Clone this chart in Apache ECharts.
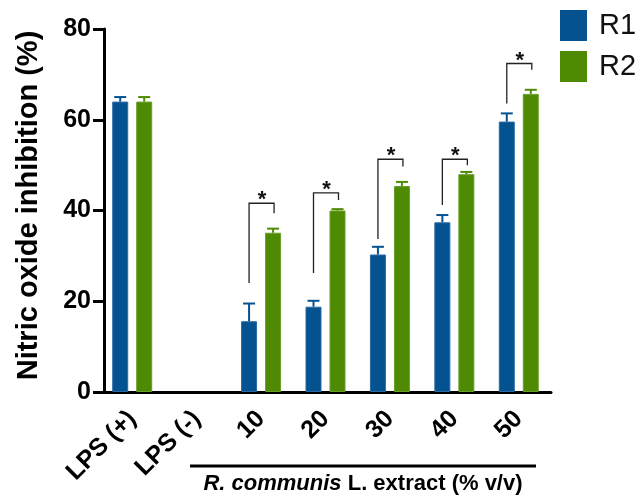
<!DOCTYPE html>
<html>
<head>
<meta charset="utf-8">
<script src="https://cdn.jsdelivr.net/npm/echarts@6/dist/echarts.min.js"></script>
<style>
  html, body { margin: 0; padding: 0; background: #fff; }
  #chart { width: 636px; height: 497px; }
</style>
</head>
<body>
<div id="chart"></div>
<script>
// Treatment groups along the x axis
const categories = ['LPS (+)', 'LPS (-)', '10', '20', '30', '40', '50'];

// Nitric oxide inhibition (%) per replicate, with standard errors
const r1Values = [64.0, 0, 15.6, 18.8, 30.3, 37.4, 59.6];
const r1Errors = [1.0, 0, 3.9, 1.3, 1.7, 1.6, 1.8];
const r2Values = [64.0, 0, 35.1, 40.0, 45.4, 48.0, 65.7];
const r2Errors = [1.0, 0, 0.9, 0.3, 0.9, 0.5, 0.9];

// Significance brackets: group index, bracket height, left leg end, right leg end
const bracketGroups = [2, 3, 4, 5, 6];
const bracketTop = [41.6, 43.9, 51.3, 51.3, 72.4];
const bracketLeftEnd = [24.0, 26.2, 33.7, 41.2, 63.6];
const bracketRightEnd = [39.4, 42.3, 49.7, 50.0, 71.0];

// Y axis ticks
const yTicks = { min: 0, max: 80, interval: 20 };

const FONT = 'Liberation Sans, Arial, Helvetica, sans-serif';
const BLUE = '#055291';
const GREEN = '#4e8b02';
const BAR_W = 16;
const BAR_GAP = 8;
const HALF_STEP = (BAR_W + BAR_GAP) / 2;

const chart = echarts.init(document.getElementById('chart'), null, { renderer: 'canvas' });

// Bars get a faint lighter edge; empty bars get no edge at all
function barData(values, edge) {
  return values.map(v => ({
    value: v,
    itemStyle: { borderColor: edge, borderWidth: v > 0 ? 1 : 0 }
  }));
}

function errorBarSeries(name, values, errors, shift, color) {
  return {
    type: 'custom',
    name: name + ' err',
    silent: true,
    z: 3,
    data: values.map((v, i) => [i, v, v + errors[i], errors[i]]),
    renderItem: function (params, api) {
      if (api.value(3) <= 0) return null;
      const base = api.coord([api.value(0), api.value(1)]);
      const top = api.coord([api.value(0), api.value(2)]);
      const x = base[0] + shift;
      const style = { stroke: color, lineWidth: 2, fill: null };
      return {
        type: 'group',
        children: [
          { type: 'line', shape: { x1: x, y1: base[1], x2: x, y2: top[1] }, style: style },
          { type: 'line', shape: { x1: x - 6, y1: top[1], x2: x + 6, y2: top[1] }, style: style }
        ]
      };
    }
  };
}

const option = {
  animation: false,
  backgroundColor: '#fff',
  textStyle: { fontFamily: FONT },
  grid: { left: 100, right: 85, top: 29, bottom: 105, containLabel: false },
  legend: {
    data: ['R1', 'R2'],
    orient: 'vertical',
    left: 560,
    top: 10,
    padding: 0,
    itemWidth: 27,
    itemHeight: 31,
    itemGap: 10,
    icon: 'rect',
    textStyle: { fontFamily: FONT, fontSize: 29, color: '#111', padding: [0, 0, 0, 7] }
  },
  xAxis: {
    type: 'category',
    data: categories,
    boundaryGap: true,
    axisLine: { lineStyle: { color: '#000', width: 3 } },
    axisTick: { alignWithLabel: true, length: 10, lineStyle: { color: '#000', width: 3 } },
    axisLabel: {
      rotate: 45,
      margin: 23,
      interval: 0,
      color: '#000',
      fontFamily: FONT,
      fontWeight: 'bold',
      fontSize: 25
    },
    splitLine: { show: false }
  },
  yAxis: {
    type: 'value',
    min: yTicks.min,
    max: yTicks.max,
    interval: yTicks.interval,
    offset: -4,
    name: 'Nitric oxide inhibition (%)',
    nameLocation: 'middle',
    nameGap: 61,
    nameTextStyle: {
      fontFamily: FONT, fontWeight: 'bold', fontSize: 29, color: '#000',
      padding: [0, 0, 0, 10]
    },
    axisLine: { show: true, lineStyle: { color: '#000', width: 3 } },
    axisTick: { show: true, length: 11, lineStyle: { color: '#000', width: 3 } },
    axisLabel: { margin: 13, color: '#000', fontFamily: FONT, fontWeight: 'bold', fontSize: 25 },
    splitLine: { show: false }
  },
  series: [
    {
      name: 'R1',
      type: 'bar',
      data: barData(r1Values, '#2b6aa3'),
      barWidth: BAR_W,
      barGap: (BAR_GAP / BAR_W * 100) + '%',
      itemStyle: { color: BLUE }
    },
    {
      name: 'R2',
      type: 'bar',
      data: barData(r2Values, '#6a9d2c'),
      barWidth: BAR_W,
      itemStyle: { color: GREEN }
    },
    errorBarSeries('R1', r1Values, r1Errors, -HALF_STEP, BLUE),
    errorBarSeries('R2', r2Values, r2Errors, HALF_STEP, GREEN),
    {
      type: 'custom',
      name: 'significance',
      silent: true,
      z: 4,
      data: bracketGroups.map((g, i) => [g, bracketTop[i], bracketLeftEnd[i], bracketRightEnd[i]]),
      renderItem: function (params, api) {
        const g = api.value(0);
        const top = api.coord([g, api.value(1)]);
        const leftEnd = api.coord([g, api.value(2)]);
        const rightEnd = api.coord([g, api.value(3)]);
        const xl = top[0] - HALF_STEP;
        const xr = top[0] + HALF_STEP + 1;
        return {
          type: 'group',
          children: [
            {
              type: 'polyline',
              shape: { points: [[xl, leftEnd[1]], [xl, top[1]], [xr, top[1]], [xr, rightEnd[1]]] },
              style: { stroke: '#222', lineWidth: 1.3, fill: null }
            },
            {
              type: 'text',
              style: {
                text: '*',
                x: top[0] + 1,
                y: top[1] - 3,
                align: 'center',
                verticalAlign: 'middle',
                font: 'bold 22px ' + FONT,
                fill: '#111'
              }
            }
          ]
        };
      }
    }
  ],
  graphic: [
    {
      type: 'line',
      shape: { x1: 190, y1: 466, x2: 536, y2: 466 },
      style: { stroke: '#000', lineWidth: 3 }
    },
    {
      type: 'text',
      x: 363,
      y: 484,
      style: {
        text: '{it|R. communis} {b|L. extract (% v/v)}',
        align: 'center',
        verticalAlign: 'middle',
        rich: {
          it: { fontFamily: FONT, fontWeight: 'bold', fontStyle: 'italic', fontSize: 22, fill: '#000' },
          b: { fontFamily: FONT, fontWeight: 'bold', fontSize: 22, fill: '#000' }
        },
        font: 'bold 22px ' + FONT,
        fill: '#000'
      }
    }
  ]
};

chart.setOption(option);
</script>
</body>
</html>
